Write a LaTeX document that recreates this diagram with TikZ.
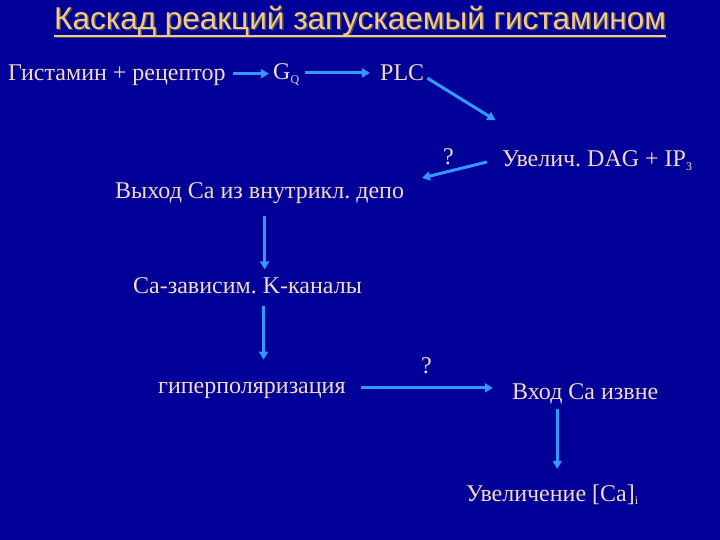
\documentclass[tikz,border=0pt]{standalone}
\usepackage{fontspec}
\setmainfont{Liberation Serif}
\newfontfamily\titlefont{Liberation Sans}
\usetikzlibrary{arrows.meta}
\frenchspacing
\definecolor{slidebg}{HTML}{000099}
\definecolor{peach}{HTML}{F2DAC0}
\definecolor{titlepeach}{HTML}{F5C98A}
\definecolor{arrowblue}{HTML}{3399FF}
\tikzset{txt/.style={text=peach,font=\fontsize{24}{26}\selectfont,inner sep=0pt,anchor=base west}}
\tikzset{link/.style={draw=arrowblue,line width=3pt,-{Triangle[length=8pt,width=9pt]}}}

\begin{document}
\begin{tikzpicture}[x=1pt, y=-1pt]
	
	\fill[slidebg] (0,0) rectangle (720,540);
	\useasboundingbox (0,0) rectangle (720,540);
	
	% title
	\node [text=black!70, font=\titlefont\fontsize{31.5}{33}\selectfont, inner sep=0pt] at (361.5,22.5) {Каскад реакций запускаемый гистамином};
	\node [text=titlepeach, font=\titlefont\fontsize{31.5}{33}\selectfont, inner sep=0pt] (title) at (360,21) {Каскад реакций запускаемый гистамином};
	\draw [black!70, line width=1.5pt] ([shift={(1.5,1.5)}]title.south west) -- ([shift={(1.5,1.5)}]title.south east);
	\draw [titlepeach, line width=1.5pt] (title.south west) -- (title.south east);
	
	% chain of steps
	\node [txt] (hist) at (8,81) {Гистамин + рецептор};
	\node [txt] (gq) at (273,80) {G\textsubscript{\fontsize{12}{13}\selectfont Q}};
	\node [txt] (plc) at (380,81) {PLC};
	\node [txt] (dag) at (502,167) {Увелич. DAG + IP\textsubscript{\fontsize{12}{13}\selectfont 3}};
	\node [txt] (depo) at (115,199) {Выход Ca из внутрикл. депо};
	\node [txt] (kchan) at (133,293) {Ca-зависим. K-каналы};
	\node [txt] (hyper) at (158,393) {гиперполяризация};
	\node [txt] (entry) at (512,399) {Вход Ca извне};
	\node [txt] (rise) at (466,501) {Увеличение [Ca]\textsubscript{\fontsize{12}{13}\selectfont i}};
	
	% question marks
	\node [txt] (q1) at (443,165) {?};
	\node [txt] (q2) at (421,373) {?};
	
	% arrows
	\draw [link] (hist.east) ++(7,-2) -- ++(36,0);
	\draw [link] (gq.east) ++(5,-2) -- ++(65,0);
	\draw [link] (plc.east) ++(3,5) -- ++(68,42);
	\draw [link] (dag.west) ++(-15,1) -- ++(-65,16);
	\draw [link] (depo.south) ++(5,12) -- ++(0,53);
	\draw [link] (kchan.south) ++(16,12) -- ++(0,54);
	\draw [link] (hyper.east) ++(15,-2) -- ++(132,0);
	\draw [link] (entry.south) ++(-28,5) -- ++(0,60);
	
\end{tikzpicture}
\end{document}
